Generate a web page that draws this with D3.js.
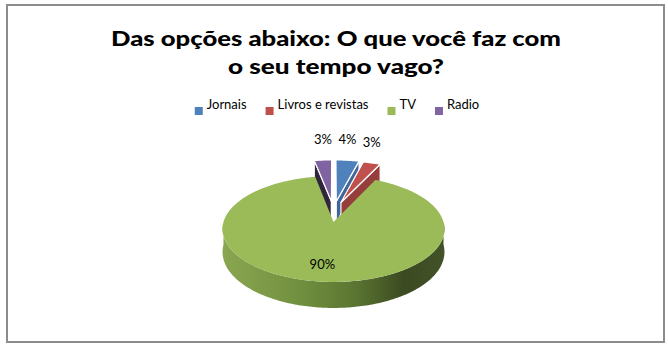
<!DOCTYPE html>
<html>
<head>
<meta charset="utf-8">
<script src="https://cdn.jsdelivr.net/npm/d3@7"></script>
<style>
  html, body { margin: 0; padding: 0; background: #fff; }
  svg { display: block; }
</style>
</head>
<body>
<svg id="chart" width="668" height="348"></svg>
<script>
// Survey answers
const categories = ["Jornais", "Livros e revistas", "TV", "Radio"];
const values = [4, 3, 90, 3];
const valueLabels = ["4%", "3%", "90%", "3%"];
const colors = ["#4f81bd", "#c0504d", "#9bbb59", "#8064a2"];
const titleLines = ["Das opções abaixo: O que você faz com", "o seu tempo vago?"];

const FONT = "Lato, 'Open Sans', 'DejaVu Sans', sans-serif";
const svg = d3.select("#chart");

// Chart frame
svg.append("rect")
  .attr("x", 7).attr("y", 5).attr("width", 657).attr("height", 337)
  .attr("fill", "#fff").attr("stroke", "#8c8c8c").attr("stroke-width", 2);

// Title
const titleWidths = [450, 216];
titleLines.forEach((t, i) => {
  svg.append("text")
    .attr("x", 336).attr("y", 46 + i * 28)
    .attr("text-anchor", "middle")
    .attr("font-family", FONT).attr("font-weight", 900).attr("font-size", 21)
    .attr("textLength", titleWidths[i]).attr("lengthAdjust", "spacingAndGlyphs")
    .attr("fill", "#000")
    .text(t);
});

// Legend, laid out from measured text widths and centred
const legend = svg.append("g");
const items = categories.map((c, i) => {
  const g = legend.append("g");
  g.append("rect").attr("x", 0).attr("y", 107).attr("width", 8).attr("height", 8).attr("fill", colors[i]);
  const t = g.append("text").attr("x", 12).attr("y", 108.5)
    .attr("font-family", FONT).attr("font-size", 13).attr("fill", "#000").text(c);
  return { g, w: 12 + t.node().getComputedTextLength() };
});
const legendGap = 19;
const legendTotal = d3.sum(items, d => d.w) + legendGap * (items.length - 1);
let lx = 337 - legendTotal / 2;
items.forEach(it => { it.g.attr("transform", `translate(${lx},0)`); lx += it.w + legendGap; });

// 3D pie: top face projected with perspective, side walls extruded downward
const cx = 333.5, cy = 222, A = 52, B = 110, k = 0.132, D = 22.6;
function proj(u, v, h) {
  const f = 1 / (1 - k * v);
  return [cx + B * u * f, cy + (A * v + D * h) * f];
}
const pie = d3.pie().sort(null).value(d => d).startAngle(0).endAngle(2 * Math.PI);
const arcs = pie(values);
const maxVal = d3.max(values);
const explodeOf = i => values[i] === maxVal ? 0 : 0.42;
const EXPLODE_SIDE = 0.5;   // sideways share of the explosion (depth foreshortening)
function offsetOf(i) {
  const d = arcs[i], m = (d.startAngle + d.endAngle) / 2, e = explodeOf(i);
  return [e * EXPLODE_SIDE * Math.sin(m), -e * Math.cos(m)];
}

function arcPts(a0, a1, ou, ov, h) {
  const n = Math.max(2, Math.ceil((a1 - a0) / (Math.PI / 180)));
  return d3.range(n + 1).map(j => {
    const t = a0 + (a1 - a0) * j / n;
    return proj(ou + Math.sin(t), ov - Math.cos(t), h);
  });
}
const line = d3.line();
const poly = pts => line(pts) + "Z";

// Horizontal shading of the front wall
const xs = d3.range(0, 2 * Math.PI, 0.01).map(t => proj(Math.sin(t), -Math.cos(t), 0)[0]);
const defs = svg.append("defs");
const grad = defs.append("linearGradient").attr("id", "rimGrad")
  .attr("gradientUnits", "userSpaceOnUse")
  .attr("x1", d3.min(xs)).attr("x2", d3.max(xs)).attr("y1", 0).attr("y2", 0);
[[0, "#8aa651"], [0.35, "#71903f"], [0.6, "#5a7531"], [0.82, "#3b4a21"], [1, "#435228"]]
  .forEach(([o, c]) => grad.append("stop").attr("offset", o).attr("stop-color", c));

function shade(c, nx) {
  const f = 0.585 + 0.215 * nx;
  const col = d3.rgb(c);
  return d3.rgb(col.r * f, col.g * f, col.b * f).formatHex();
}

// paint back slices first
const order = arcs.map((d, i) => i).sort((a, b) => {
  const ma = (arcs[a].startAngle + arcs[a].endAngle) / 2;
  const mb = (arcs[b].startAngle + arcs[b].endAngle) / 2;
  return -Math.cos(ma) + Math.cos(mb);
});

const pieG = svg.append("g");
order.forEach(i => {
  const d = arcs[i];
  const a0 = d.startAngle, a1 = d.endAngle;
  const [ou, ov] = offsetOf(i);
  const exploded = explodeOf(i) > 0;
  const g = pieG.append("g");
  const strokeAttrs = sel => exploded
    ? sel.attr("stroke", "#fff").attr("stroke-width", 1.2).attr("stroke-linejoin", "round")
    : sel.attr("stroke", "none");

  // radial cut faces that turn towards the viewer
  [[a0, -1], [a1, 1]].forEach(([a, s]) => {
    const nv = s * Math.sin(a);
    if (nv <= 0) return;
    const nx = s * Math.cos(a);
    const tipT = proj(ou, ov, 0), rimT = proj(ou + Math.sin(a), ov - Math.cos(a), 0);
    const rimB = proj(ou + Math.sin(a), ov - Math.cos(a), 1), tipB = proj(ou, ov, 1);
    strokeAttrs(g.append("path").attr("d", poly([tipT, rimT, rimB, tipB]))
      .attr("fill", shade(colors[i], nx)));
  });

  // outer wall on the front half
  const f0 = Math.max(a0, Math.PI / 2), f1 = Math.min(a1, 3 * Math.PI / 2);
  if (f1 > f0) {
    const top = arcPts(f0, f1, ou, ov, 0);
    const bot = arcPts(f0, f1, ou, ov, 1).reverse();
    strokeAttrs(g.append("path").attr("d", poly(top.concat(bot)))
      .attr("fill", exploded ? shade(colors[i], 0) : "url(#rimGrad)"));
  }

  // top face
  const topPts = [proj(ou, ov, 0)].concat(arcPts(a0, a1, ou, ov, 0));
  strokeAttrs(g.append("path").attr("d", poly(topPts)).attr("fill", colors[i]));
});

// Data labels
arcs.forEach((d, i) => {
  const m = (d.startAngle + d.endAngle) / 2;
  let x, y;
  if (explodeOf(i) > 0) {
    const [ou, ov] = offsetOf(i);
    const p = proj(ou + Math.sin(m), ov - Math.cos(m), 0);
    x = p[0]; y = p[1] - 16;
  } else {
    const r = 0.73;
    const p = proj(r * Math.sin(m), -r * Math.cos(m), 0);
    x = p[0]; y = p[1] + 5;
  }
  svg.append("text").attr("x", x).attr("y", y)
    .attr("text-anchor", "middle")
    .attr("font-family", FONT).attr("font-size", 13).attr("fill", "#000")
    .text(valueLabels[i]);
});
</script>
</body>
</html>
